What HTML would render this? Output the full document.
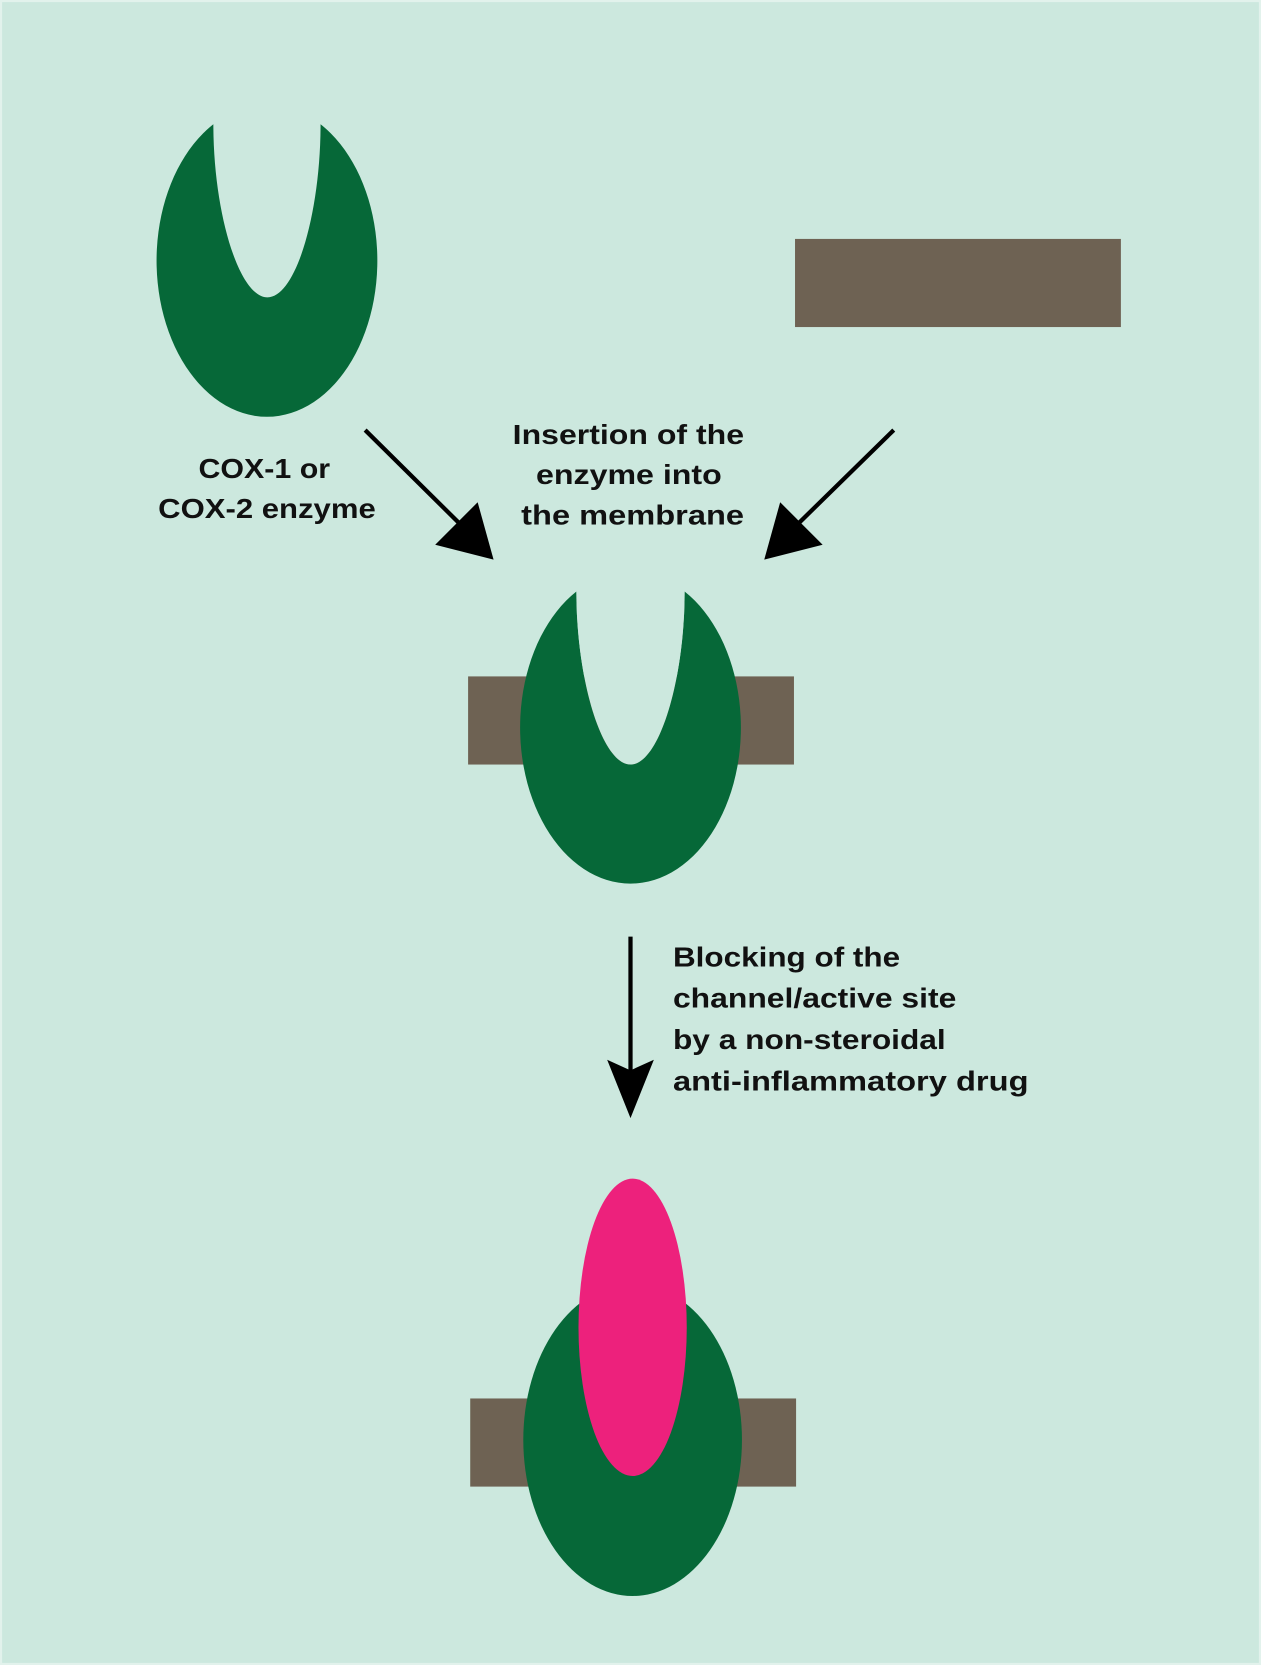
<!DOCTYPE html>
<html><head><meta charset="utf-8"><style>
html,body{margin:0;padding:0;background:#cce8de;}
svg{display:block;}
text{font-family:"Liberation Sans",sans-serif;font-weight:bold;font-size:26px;fill:#111;}
</style></head><body>
<svg width="1261" height="1665" viewBox="0 0 1188 1568" preserveAspectRatio="none" xmlns="http://www.w3.org/2000/svg">
<rect x="0" y="0" width="1188" height="1568" fill="#cce8de"/>
<rect x="1" y="1" width="1186" height="1566" fill="none" stroke="#e2f2ec" stroke-width="2"/>
<path d="M302,117 A104,147 0 1 1 201,117 C201,200 225,280 252,280 C279,280 302,200 302,117 Z" fill="#066838"/>
<rect x="749" y="225" width="307" height="83" fill="#6e6253"/>
<rect x="441" y="637" width="307" height="83" fill="#6e6253"/>
<path d="M645,557 A104,147 0 1 1 543,557 C543,640 567,720 594,720 C621,720 645,640 645,557 Z" fill="#066838"/>
<path d="M543,550 L543,557 C543,640 567,720 594,720 C621,720 645,640 645,557 L645,550 Z" fill="#cce8de"/>
<rect x="443" y="1317" width="307" height="83" fill="#6e6253"/>
<ellipse cx="596" cy="1356" rx="103" ry="147" fill="#066838"/>
<ellipse cx="596" cy="1250" rx="51" ry="140" fill="#ed217c"/>
<line x1="344" y1="405" x2="440" y2="500" stroke="#000" stroke-width="4"/>
<polygon points="465,527 410,513 450,473" fill="#000"/>
<line x1="842" y1="405" x2="745" y2="500" stroke="#000" stroke-width="4"/>
<polygon points="720,527 775,513 735,473" fill="#000"/>
<line x1="594" y1="882" x2="594" y2="1015" stroke="#000" stroke-width="4"/>
<polygon points="594,1053 572,998 594,1008 616,998" fill="#000"/>
<text x="187" y="450" textLength="124" lengthAdjust="spacingAndGlyphs">COX-1 or</text>
<text x="149" y="488" textLength="205" lengthAdjust="spacingAndGlyphs">COX-2 enzyme</text>
<text x="483" y="418" textLength="218" lengthAdjust="spacingAndGlyphs">Insertion of the</text>
<text x="505" y="456" textLength="175" lengthAdjust="spacingAndGlyphs">enzyme into</text>
<text x="491" y="494" textLength="210" lengthAdjust="spacingAndGlyphs">the membrane</text>
<text x="634" y="910" textLength="214" lengthAdjust="spacingAndGlyphs">Blocking of the</text>
<text x="634" y="949" textLength="267" lengthAdjust="spacingAndGlyphs">channel/active site</text>
<text x="634" y="988" textLength="257" lengthAdjust="spacingAndGlyphs">by a non-steroidal</text>
<text x="634" y="1027" textLength="335" lengthAdjust="spacingAndGlyphs">anti-inflammatory drug</text>
</svg>
</body></html>
